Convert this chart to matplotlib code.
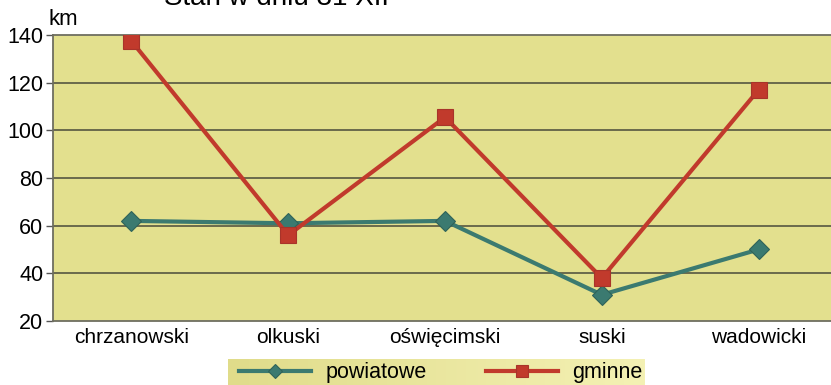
import matplotlib.pyplot as plt
import numpy as np

plt.rcParams['font.family'] = ['Liberation Sans', 'DejaVu Sans']

# długość dróg wg powiatów
powiaty = ['chrzanowski', 'olkuski', 'oświęcimski', 'suski', 'wadowicki']
powiatowe = [62, 61, 62, 31, 50]
gminne = [137.5, 56, 105.5, 38, 117]
yticks = [20, 40, 60, 80, 100, 120, 140]

W, H = 831, 385
fig = plt.figure(figsize=(W / 100, H / 100), dpi=100)

# obszar wykresu wychodzi poza prawą krawędź rysunku
left, right, top, bottom = 53, 837, 35, 321
ax = fig.add_axes([left / W, 1 - bottom / H, (right - left) / W, (bottom - top) / H])
ax.set_facecolor('#E3E08E')

x = np.arange(len(powiaty))
ax.plot(x, powiatowe, color='#3B7A70', lw=3, marker='D', ms=10,
        mec='#2F6359', mew=0.8, label='powiatowe', zorder=3)
ax.plot(x, gminne, color='#C13A2C', lw=3, marker='s', ms=11.5,
        mec='#A8342A', mew=0.8, label='gminne', zorder=3)

ax.set_xlim(-0.5, len(powiaty) - 0.5)
ax.set_ylim(20, 140)
ax.set_yticks(yticks)
ax.set_xticks(x)
ax.set_xticklabels(powiaty)
ax.tick_params(axis='y', labelsize=15.5, length=5, width=1, color='#555555', pad=2)
ax.tick_params(axis='x', labelsize=15, length=0, pad=5)
for t in yticks[1:-1]:
    ax.axhline(t, color='#4A4A3A', lw=1.1, zorder=1)
for s in ['left', 'bottom', 'top']:
    ax.spines[s].set_color('#6E6E60')
    ax.spines[s].set_linewidth(1.3)
ax.spines['right'].set_visible(False)

fig.text(49 / W, 1 - 25 / H, 'km', fontsize=16, ha='left', va='baseline')
fig.text(276 / W, 1 - 5 / H, 'Stan w dniu 31 XII', fontsize=20,
         ha='center', va='baseline')

# legenda na tle z gradientem
lx0, lx1, ly0, ly1 = 228, 645, 359, 390
lax = fig.add_axes([lx0 / W, 1 - ly1 / H, (lx1 - lx0) / W, (ly1 - ly0) / H])
grad = np.linspace(0, 1, 256)[None, :]
cmap = plt.matplotlib.colors.LinearSegmentedColormap.from_list(
    'tlo', ['#E0DC8A', '#F4F1B4'])
lax.imshow(grad, aspect='auto', cmap=cmap, extent=[0, 1, 0, 1])
lax.set_axis_off()
handles, labels = ax.get_legend_handles_labels()
lax.legend(handles, labels, ncol=2, frameon=False, fontsize=15.5,
           loc='center left', bbox_to_anchor=(11 / (lx1 - lx0), 0.55),
           borderaxespad=0, borderpad=0,
           handlelength=3.35, columnspacing=2.75, handletextpad=0.65,
           markerscale=0.75)

fig.savefig('out.png', dpi=100)
